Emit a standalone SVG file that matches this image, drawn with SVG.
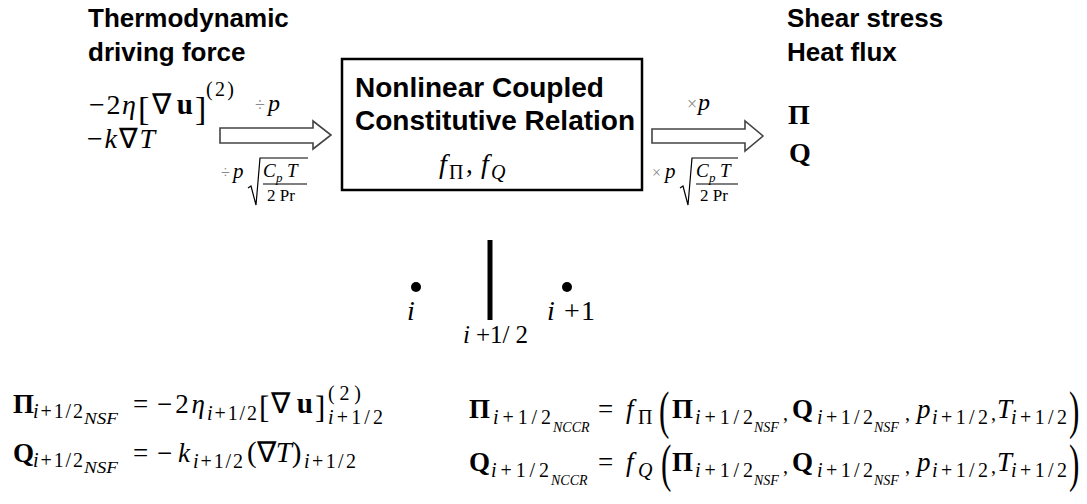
<svg xmlns="http://www.w3.org/2000/svg" width="1087" height="504" viewBox="0 0 1087 504">
<style>
.t{font-family:"Liberation Sans",Arial,sans-serif;font-weight:bold;font-size:26px;fill:#000}
.t28{font-family:"Liberation Sans",Arial,sans-serif;font-weight:bold;font-size:28px;fill:#000}
.m{font-family:"Liberation Serif","Times New Roman",serif;font-size:27px;fill:#000}
.b{font-weight:bold}
.it{font-style:italic}
.s{font-family:"Liberation Serif","Times New Roman",serif;font-size:20px;fill:#000}
.ss{font-family:"Liberation Serif","Times New Roman",serif;font-size:14px;font-style:italic;fill:#000}
.g{fill:#8a8a8a}
.arrow{fill:#fff;stroke:#444;stroke-width:1.6}
.rule{stroke:#000;stroke-width:1.2;fill:none}
</style>
<rect width="1087" height="504" fill="#fff"/>

<g id="input">
<text class="t" x="88" y="27">Thermodynamic</text>
<text class="t" x="88" y="61">driving force</text>
<text class="m" x="89" y="114" style="font-size:28px" textLength="47">−2<tspan class="it">η</tspan></text>
<text class="m" x="138" y="120" style="font-size:34px">[</text>
<text class="m" x="152" y="114" style="font-size:29px" textLength="41">∇<tspan class="b">u</tspan></text>
<text class="m" x="195" y="120" style="font-size:34px">]</text>
<text class="s" x="206" y="96" textLength="28">(2)</text>
<text class="m" x="87" y="148" style="font-size:28px" textLength="68">−<tspan class="it">k</tspan>∇<tspan class="it">T</tspan></text>
</g>

<g id="box">
<rect x="342" y="59" width="300" height="131" fill="#fff" stroke="#000" stroke-width="2.5"/>
<text class="t28" x="355" y="97">Nonlinear Coupled</text>
<text class="t28" x="355" y="130">Constitutive Relation</text>
<text class="m it" x="439" y="173" style="font-size:28px">f</text>
<text class="s" x="449" y="179">Π</text>
<text class="m" x="466" y="173">,</text>
<text class="m it" x="481" y="173" style="font-size:28px">f</text>
<text class="s it" x="491" y="179">Q</text>
</g>

<g id="output">
<text class="t" x="787" y="27">Shear stress</text>
<text class="t" x="787" y="61">Heat flux</text>
<text class="m b" x="788" y="124" style="font-size:28px">Π</text>
<text class="m b" x="789" y="162" style="font-size:28px">Q</text>
</g>

<g id="connectors">
<polygon class="arrow" points="220,128 313,128 313,121 331,135 313,149 313,143 220,143"/>
<polygon class="arrow" points="652,129 745,129 745,121 763,136 745,151 745,143 652,143"/>
</g>

<g id="label-in">
<text class="s g" x="255" y="111" style="font-size:18px">÷</text>
<text class="m it" x="268" y="111" style="font-size:24px">p</text>
<text class="s g" x="221" y="178" style="font-size:16px">÷</text>
<text class="m it" x="233" y="178" style="font-size:21px">p</text>
<polyline class="rule" points="248,188 251,186 256,205 260,158 308,158"/>
<text class="m it" x="263" y="177" style="font-size:19px">C</text>
<text class="m it" x="276" y="182" style="font-size:13px">p</text>
<text class="m it" x="287" y="177" style="font-size:19px">T</text>
<line class="rule" x1="263" y1="184" x2="307" y2="184"/>
<text class="m" x="267" y="201" style="font-size:17px">2 Pr</text>
</g>

<g id="label-out">
<text class="s g" x="687" y="110" style="font-size:18px">×</text>
<text class="m it" x="698" y="110" style="font-size:24px">p</text>
<text class="s g" x="652" y="178" style="font-size:16px">×</text>
<text class="m it" x="665" y="178" style="font-size:21px">p</text>
<polyline class="rule" points="680,188 683,186 688,205 692,158 738,158"/>
<text class="m it" x="696" y="177" style="font-size:19px">C</text>
<text class="m it" x="709" y="182" style="font-size:13px">p</text>
<text class="m it" x="720" y="177" style="font-size:19px">T</text>
<line class="rule" x1="696" y1="184" x2="738" y2="184"/>
<text class="m" x="700" y="201" style="font-size:17px">2 Pr</text>
</g>

<g id="grid">
<circle cx="416" cy="287" r="5" fill="#000"/>
<circle cx="567" cy="287" r="5" fill="#000"/>
<line x1="490" y1="240" x2="490" y2="320" stroke="#000" stroke-width="5"/>
<text class="m it" x="407" y="320" style="font-size:28px">i</text>
<text class="m" x="463" y="343" style="font-size:25px" textLength="65"><tspan class="it">i</tspan> +1/ 2</text>
<text class="m" x="547" y="320" style="font-size:28px" textLength="48"><tspan class="it">i</tspan> +1</text>
</g>

<g id="eq-nsf">
<text class="m b" x="13" y="413">Π</text>
<text class="s" x="33" y="418" textLength="50"><tspan class="it">i</tspan>+1/2</text>
<text class="ss" x="84" y="424" style="font-size:16px" textLength="34" lengthAdjust="spacingAndGlyphs">NSF</text>
<text class="m" x="133" y="413">=</text>
<text class="m" x="157" y="413" textLength="48">−2<tspan class="it">η</tspan></text>
<text class="s" x="207" y="420" textLength="50"><tspan class="it">i</tspan>+1/2</text>
<text class="m" x="259" y="418" style="font-size:31px">[</text>
<text class="m" x="271" y="413" style="font-size:29px" textLength="42">∇<tspan class="b">u</tspan></text>
<text class="m" x="315" y="418" style="font-size:31px">]</text>
<text class="s" x="328" y="400" textLength="33">(2)</text>
<text class="s" x="328" y="424" textLength="55"><tspan class="it">i</tspan>+1/2</text>

<text class="m b" x="13" y="462">Q</text>
<text class="s" x="33" y="467" textLength="50"><tspan class="it">i</tspan>+1/2</text>
<text class="ss" x="84" y="473" style="font-size:16px" textLength="34" lengthAdjust="spacingAndGlyphs">NSF</text>
<text class="m" x="133" y="462">=</text>
<text class="m" x="157" y="462" textLength="33">−<tspan class="it">k</tspan></text>
<text class="s" x="193" y="468" textLength="50"><tspan class="it">i</tspan>+1/2</text>
<text class="m" x="247" y="462" style="font-size:29px">(∇<tspan class="it">T</tspan>)</text>
<text class="s" x="304" y="468" textLength="52"><tspan class="it">i</tspan>+1/2</text>
</g>

<g id="eq-nccr">
<text class="m b" x="469" y="418">Π</text>
<text class="s" x="493" y="424" textLength="58"><tspan class="it">i</tspan>+1/2</text>
<text class="ss" x="553" y="432">NCCR</text>
<text class="m" x="598" y="418">=</text>
<text class="m it" x="626" y="418">f</text>
<text class="s" x="638" y="424">Π</text>
<text class="m" transform="translate(659,428) scale(0.6,1)" style="font-size:52px">(</text>
<text class="m b" x="672" y="418">Π</text>
<text class="s" x="695" y="424" textLength="58"><tspan class="it">i</tspan>+1/2</text>
<text class="ss" x="754" y="432">NSF</text>
<text class="s" x="783" y="420">,</text>
<text class="m b" x="792" y="418">Q</text>
<text class="s" x="817" y="424" textLength="56"><tspan class="it">i</tspan>+1/2</text>
<text class="ss" x="874" y="432">NSF</text>
<text class="s" x="905" y="420">,</text>
<text class="m it" x="917" y="418">p</text>
<text class="s" x="932" y="424" textLength="56"><tspan class="it">i</tspan>+1/2</text>
<text class="s" x="991" y="420">,</text>
<text class="m it" x="997" y="418">T</text>
<text class="s" x="1011" y="424" textLength="56"><tspan class="it">i</tspan>+1/2</text>
<text class="m" transform="translate(1069,428) scale(0.6,1)" style="font-size:52px">)</text>

<text class="m b" x="469" y="471">Q</text>
<text class="s" x="491" y="477" textLength="58"><tspan class="it">i</tspan>+1/2</text>
<text class="ss" x="551" y="485">NCCR</text>
<text class="m" x="598" y="471">=</text>
<text class="m it" x="626" y="471">f</text>
<text class="s it" x="638" y="477">Q</text>
<text class="m" transform="translate(661,481) scale(0.6,1)" style="font-size:52px">(</text>
<text class="m b" x="672" y="471">Π</text>
<text class="s" x="695" y="477" textLength="58"><tspan class="it">i</tspan>+1/2</text>
<text class="ss" x="754" y="485">NSF</text>
<text class="s" x="783" y="473">,</text>
<text class="m b" x="792" y="471">Q</text>
<text class="s" x="817" y="477" textLength="56"><tspan class="it">i</tspan>+1/2</text>
<text class="ss" x="874" y="485">NSF</text>
<text class="s" x="905" y="473">,</text>
<text class="m it" x="917" y="471">p</text>
<text class="s" x="932" y="477" textLength="56"><tspan class="it">i</tspan>+1/2</text>
<text class="s" x="991" y="473">,</text>
<text class="m it" x="997" y="471">T</text>
<text class="s" x="1011" y="477" textLength="56"><tspan class="it">i</tspan>+1/2</text>
<text class="m" transform="translate(1069,481) scale(0.6,1)" style="font-size:52px">)</text>
</g>
</svg>
